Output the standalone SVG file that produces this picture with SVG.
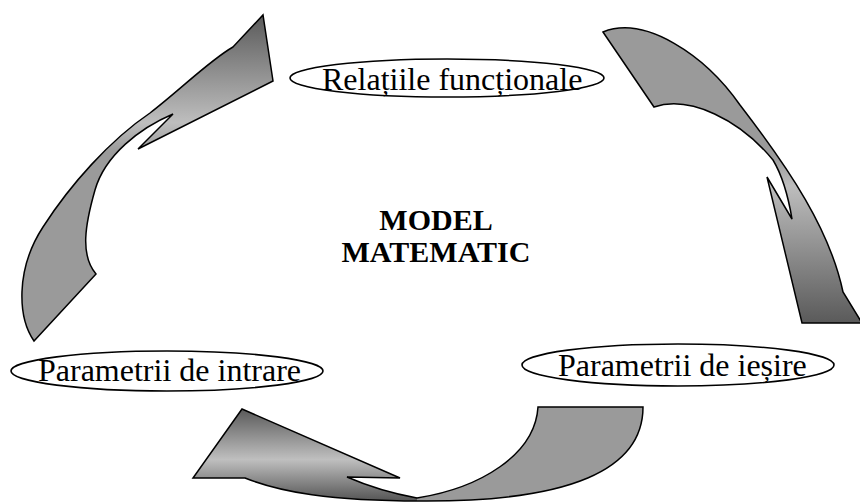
<svg xmlns="http://www.w3.org/2000/svg" width="860" height="502" viewBox="0 0 860 502">
<style>
.lbl{font-family:"Liberation Serif","Times New Roman",serif;font-size:32px;fill:#000}
.ttl{font-family:"Liberation Serif","Times New Roman",serif;font-size:30px;font-weight:bold;fill:#000;text-anchor:middle}
.ell{fill:#fff;stroke:#000;stroke-width:1.6}
.arr{stroke:#000;stroke-width:1.5;stroke-linejoin:miter}
</style>
<defs>
<linearGradient id="gLeft" gradientUnits="userSpaceOnUse" x1="0" y1="15" x2="0" y2="341">
<stop offset="0" stop-color="#5a5a5a"/>
<stop offset="0.33" stop-color="#bebebe"/>
<stop offset="0.42" stop-color="#9a9a9a"/>
<stop offset="1" stop-color="#9a9a9a"/>
</linearGradient>
<linearGradient id="gRight" gradientUnits="userSpaceOnUse" x1="0" y1="25" x2="0" y2="323">
<stop offset="0" stop-color="#9a9a9a"/>
<stop offset="0.44" stop-color="#9a9a9a"/>
<stop offset="0.54" stop-color="#bdbdbd"/>
<stop offset="1" stop-color="#5a5a5a"/>
</linearGradient>
<linearGradient id="gBottom" gradientUnits="userSpaceOnUse" x1="0" y1="409" x2="0" y2="501">
<stop offset="0" stop-color="#5a5a5a"/>
<stop offset="0.55" stop-color="#bfbfbf"/>
<stop offset="1" stop-color="#555"/>
</linearGradient>
<clipPath id="headClip"><rect x="0" y="380" width="417" height="122"/></clipPath>
<path id="pBottom" d="M538,407 L643,407 C643,470 570,502 420,501 C330,501 280,492 245,478 L193,478 L242,409 L400,478 L347,477 C370,487 395,494 417,498 C480,488 535,455 538,407 Z"/>
</defs>

<g id="connectors">
<path id="arrow-left" class="arr" fill="url(#gLeft)" d="M34,341 C18,318 15,270 43,227 C70,185 110,140 150,113 C180,90 210,60 233,47 L263,15 L273,81 L138,149 L173,114 C140,128 105,155 95,190 C85,225 80,255 96,274 Z"/>
<path id="arrow-right" class="arr" fill="url(#gRight)" d="M603,32 C645,15 705,55 740,105 C790,170 830,230 843,292 L862,323 L802,323 L767,177 L792,219 C788,195 782,175 773,160 C740,120 690,95 654,107 Z"/>
<g id="arrow-bottom">
<use href="#pBottom" fill="#9a9a9a"/>
<use href="#pBottom" fill="url(#gBottom)" clip-path="url(#headClip)"/>
<use href="#pBottom" fill="none" class="arr"/>
</g>
</g>

<g id="node-relatii">
<ellipse class="ell" cx="447" cy="78" rx="157" ry="19"/>
<text class="lbl" x="322" y="90">Relațiile funcționale</text>
</g>
<g id="node-intrare">
<ellipse class="ell" cx="167" cy="371" rx="156" ry="20"/>
<text class="lbl" x="38" y="381">Parametrii de intrare</text>
</g>
<g id="node-iesire">
<ellipse class="ell" cx="678" cy="365" rx="156" ry="21"/>
<text class="lbl" x="558" y="376">Parametrii de ieșire</text>
</g>
<g id="node-model">
<text class="ttl" x="436" y="230">MODEL</text>
<text class="ttl" x="436" y="262">MATEMATIC</text>
</g>
</svg>
